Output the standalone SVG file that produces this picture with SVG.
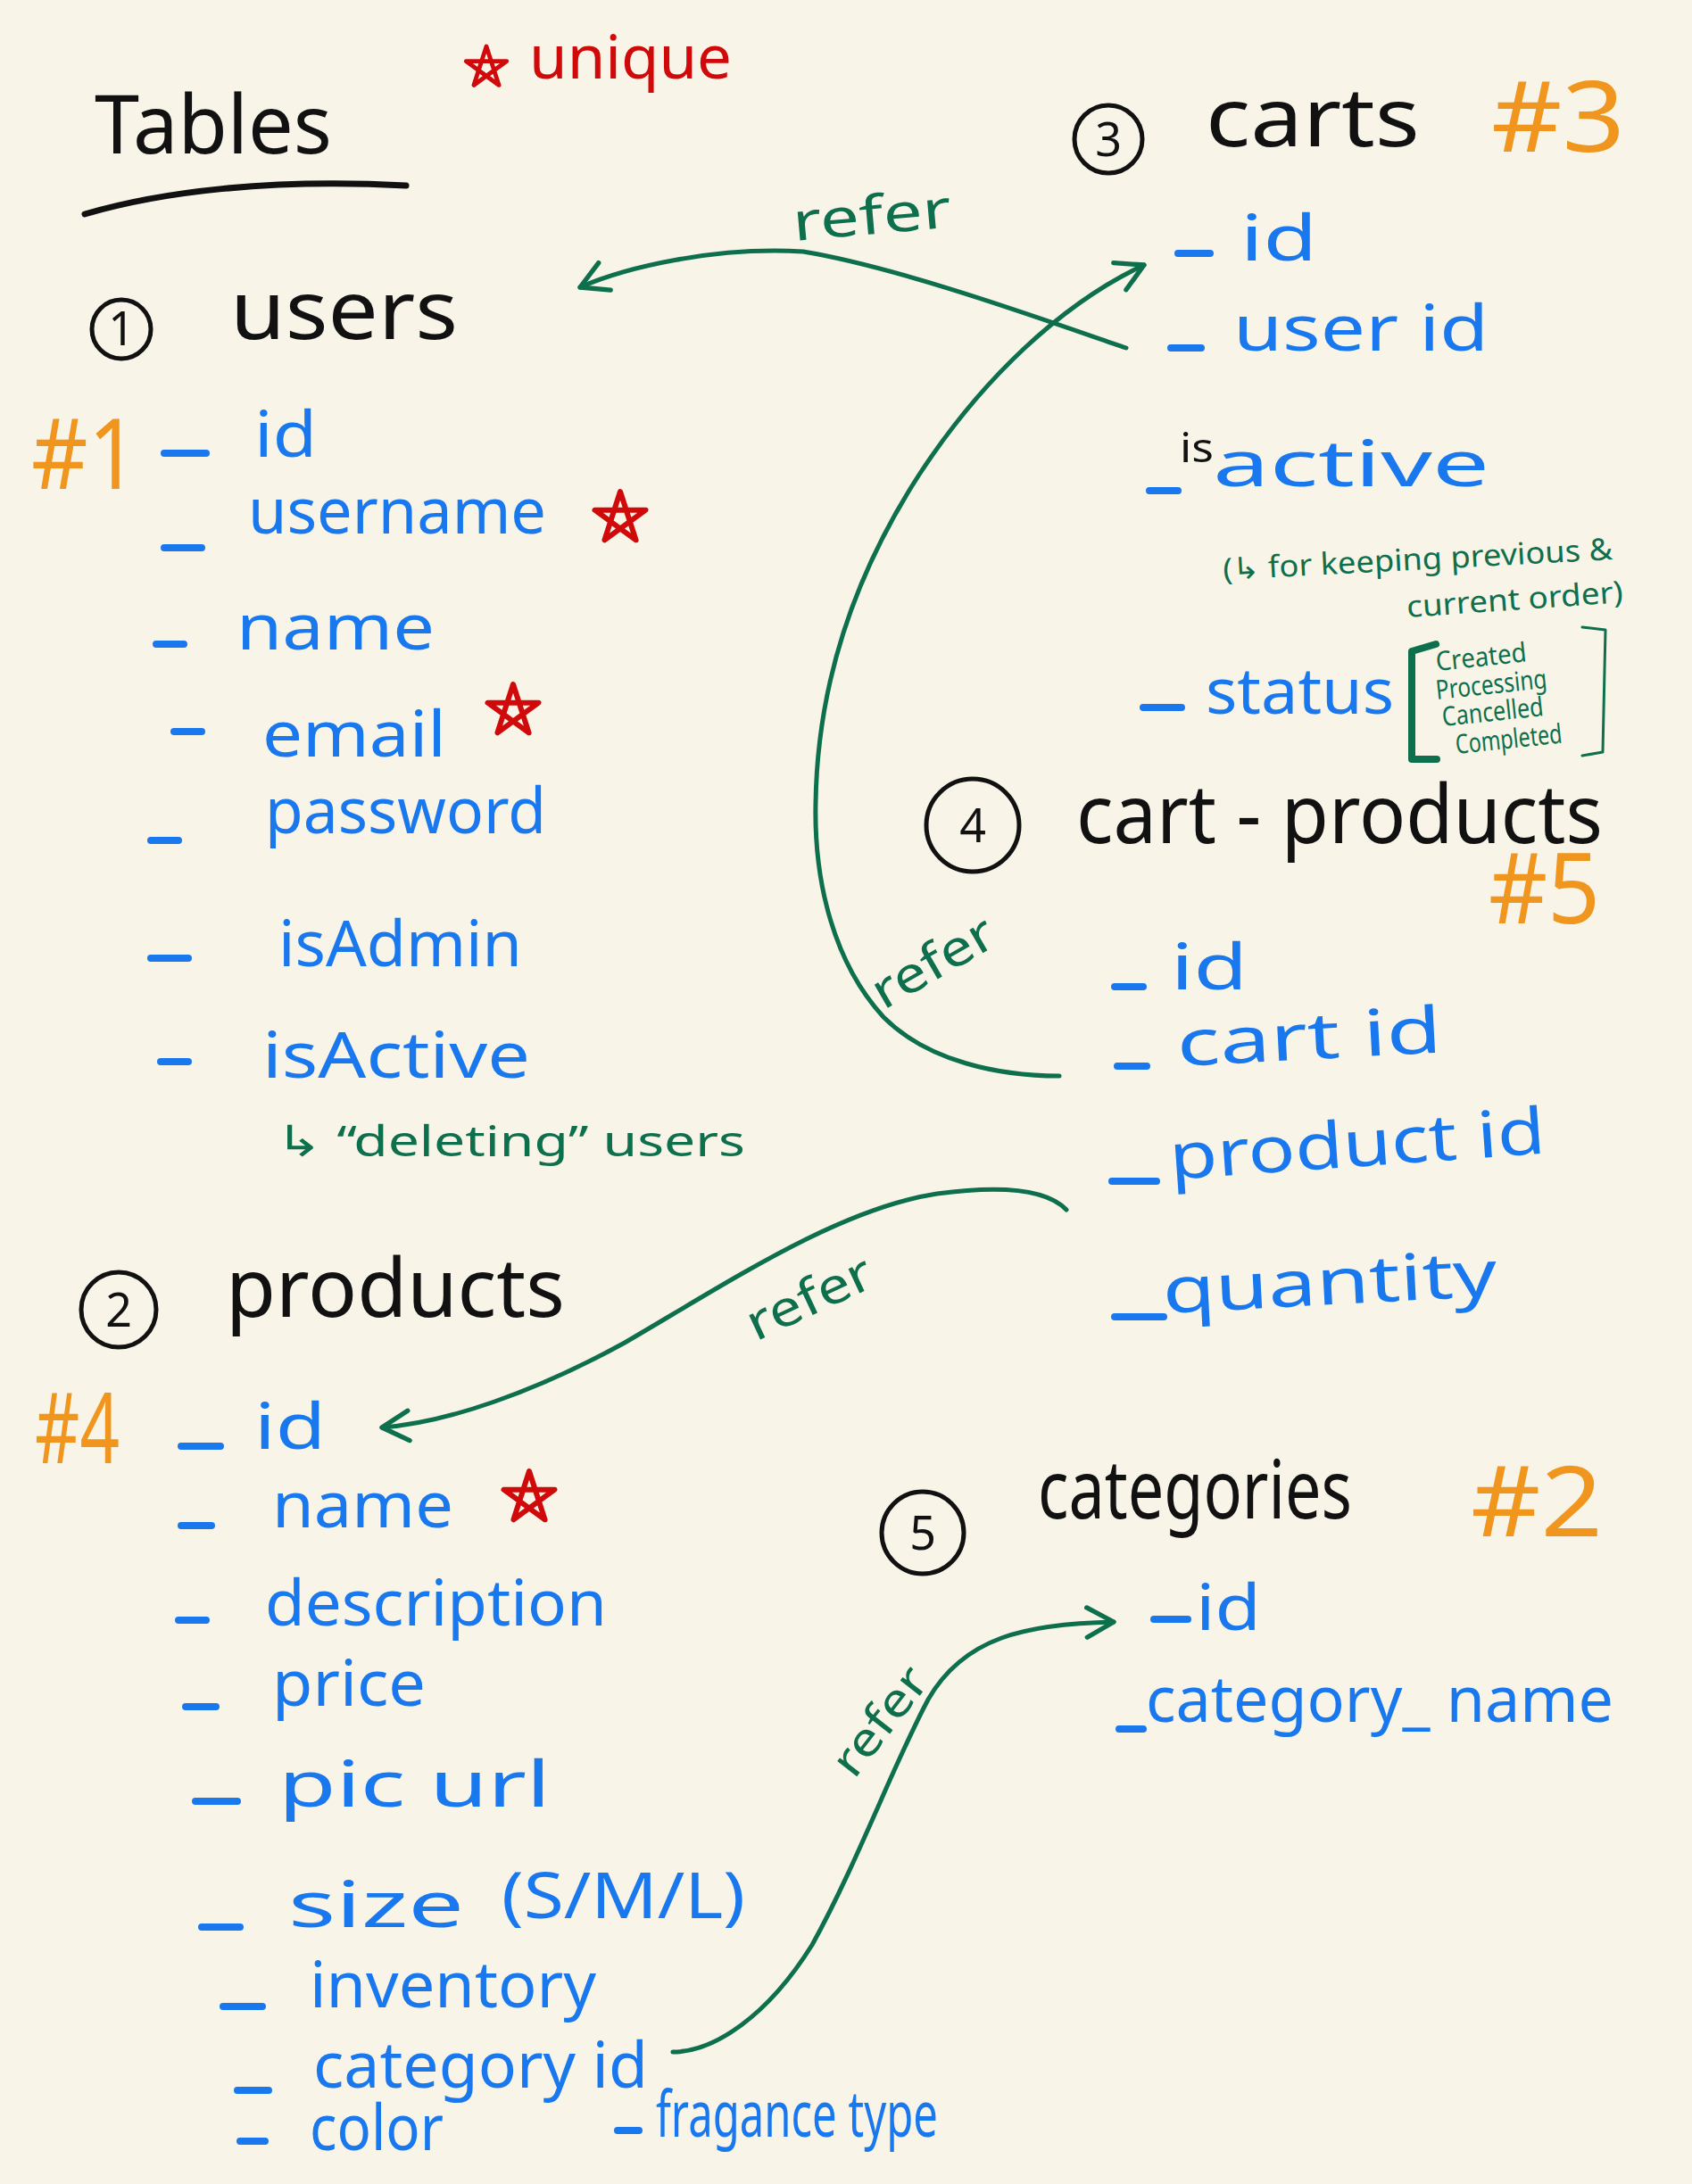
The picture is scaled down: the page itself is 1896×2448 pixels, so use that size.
<svg xmlns="http://www.w3.org/2000/svg" width="1896" height="2448" viewBox="0 0 1896 2448">
<defs>
<style>
text{font-family:"Noto Sans","DejaVu Sans",sans-serif;}
.blk{fill:#111;}
.hd{fill:#111;font-size:92px;}
.fld{fill:#1a78ee;font-size:72px;}
.dash{stroke:#1a78ee;stroke-width:8;stroke-linecap:round;fill:none;}
.org{fill:#f0961e;font-size:110px;}
.red{fill:#d00a0a;}
.grn{fill:#0e6f4d;}
.note{fill:#0e6f4d;font-size:34px;}
.num{fill:none;stroke:#111;stroke-width:5;}
.digit{fill:#111;font-size:52px;text-anchor:middle;}
.conn{fill:none;stroke:#0e6f4d;stroke-width:5;stroke-linecap:round;}
.star{fill:none;stroke:#d00a0a;stroke-width:6;stroke-linejoin:round;}
</style>
<marker id="arr" viewBox="0 0 12 12" refX="10" refY="6" markerWidth="8" markerHeight="8" markerUnits="strokeWidth" orient="auto">
<path d="M1,1 L10,6 L1,11" fill="none" stroke="#0e6f4d" stroke-width="1.6" stroke-linecap="round" stroke-linejoin="round"/>
</marker>
<path id="star" d="M0,-30 L17.6,24.3 L-28.5,-9.3 L28.5,-9.3 L-17.6,24.3 Z"/>
</defs>
<rect width="1896" height="2448" fill="#f8f5e8"/>

<g id="title">
<text class="hd" x="106" y="172" textLength="266" lengthAdjust="spacingAndGlyphs">Tables</text>
<path d="M95,240 C180,215 300,200 455,208" fill="none" stroke="#111" stroke-width="7" stroke-linecap="round"/>
</g>

<g id="legend">
<use href="#star" class="star" transform="translate(545,76) scale(0.8)"/>
<text class="red" x="593" y="88" font-size="68" textLength="227" lengthAdjust="spacingAndGlyphs">unique</text>
</g>

<g id="users">
<circle class="num" cx="136" cy="369" r="33"/>
<text class="digit" x="136" y="387">1</text>
<text class="hd" x="258" y="380" textLength="255" lengthAdjust="spacingAndGlyphs">users</text>
<text class="org" x="35" y="548" textLength="120" lengthAdjust="spacingAndGlyphs">#1</text>
<path class="dash" d="M184,508 H231 M184,614 H226 M175,722 H206 M195,820 H226 M169,942 H200 M169,1074 H211 M180,1190 H211"/>
<text class="fld" x="285" y="512" textLength="70" lengthAdjust="spacingAndGlyphs">id</text>
<text class="fld" x="278" y="598" textLength="334" lengthAdjust="spacingAndGlyphs">username</text>
<use href="#star" class="star" transform="translate(695,581)"/>
<text class="fld" x="265" y="728" textLength="222" lengthAdjust="spacingAndGlyphs">name</text>
<text class="fld" x="294" y="848" textLength="206" lengthAdjust="spacingAndGlyphs">email</text>
<use href="#star" class="star" transform="translate(575,797)"/>
<text class="fld" x="297" y="934" textLength="315" lengthAdjust="spacingAndGlyphs">password</text>
<text class="fld" x="312" y="1083" textLength="273" lengthAdjust="spacingAndGlyphs">isAdmin</text>
<text class="fld" x="294" y="1208" textLength="300" lengthAdjust="spacingAndGlyphs">isActive</text>
<text class="grn" x="309" y="1296" font-size="48" textLength="526" lengthAdjust="spacingAndGlyphs">↳ “deleting”  users</text>
</g>

<g id="products">
<circle class="num" cx="133" cy="1468" r="42"/>
<text class="digit" x="133" y="1487">2</text>
<text class="hd" x="253" y="1476" textLength="380" lengthAdjust="spacingAndGlyphs">products</text>
<text class="org" x="39" y="1640" textLength="95" lengthAdjust="spacingAndGlyphs">#4</text>
<path class="dash" d="M203,1621 H247 M203,1710 H237 M200,1816 H231 M208,1913 H242 M219,2019 H266 M226,2160 H269 M250,2249 H294 M266,2343 H301 M269,2400 H297"/>
<text class="fld" x="285" y="1624" textLength="80" lengthAdjust="spacingAndGlyphs">id</text>
<text class="fld" x="305" y="1712" textLength="203" lengthAdjust="spacingAndGlyphs">name</text>
<use href="#star" class="star" transform="translate(593,1679)"/>
<text class="fld" x="297" y="1822" textLength="383" lengthAdjust="spacingAndGlyphs">description</text>
<text class="fld" x="305" y="1912" textLength="172" lengthAdjust="spacingAndGlyphs">price</text>
<text class="fld" x="312" y="2025" textLength="305" lengthAdjust="spacingAndGlyphs">pic url</text>
<text class="fld" x="323" y="2160" textLength="197" lengthAdjust="spacingAndGlyphs">size</text>
<text class="fld" x="562" y="2150" font-size="58" textLength="273" lengthAdjust="spacingAndGlyphs">(S/M/L)</text>
<text class="fld" x="347" y="2250" textLength="321" lengthAdjust="spacingAndGlyphs">inventory</text>
<text class="fld" x="351" y="2340" font-size="64" textLength="375" lengthAdjust="spacingAndGlyphs">category  id</text>
<text class="fld" x="347" y="2410" font-size="58" textLength="150" lengthAdjust="spacingAndGlyphs">color</text>
<path class="dash" d="M692,2388 H716"/>
<text class="fld" x="735" y="2395" font-size="52" textLength="316" lengthAdjust="spacingAndGlyphs">fragance type</text>
</g>

<g id="carts">
<circle class="num" cx="1242" cy="156" r="38"/>
<text class="digit" x="1242" y="175">3</text>
<text class="hd" x="1351" y="164" textLength="240" lengthAdjust="spacingAndGlyphs">carts</text>
<text class="org" x="1671" y="170" font-size="120" textLength="150" lengthAdjust="spacingAndGlyphs">#3</text>
<path class="dash" d="M1320,284 H1356 M1312,390 H1346 M1288,550 H1320 M1281,793 H1324"/>
<text class="fld" x="1390" y="292" textLength="86" lengthAdjust="spacingAndGlyphs">id</text>
<text class="fld" x="1382" y="393" textLength="286" lengthAdjust="spacingAndGlyphs">user id</text>
<text class="blk" x="1322" y="518" font-size="46" textLength="38" lengthAdjust="spacingAndGlyphs">is</text>
<text class="fld" x="1359" y="545" font-size="80" textLength="310" lengthAdjust="spacingAndGlyphs">active</text>
<text class="note" x="1371" y="650" textLength="437" lengthAdjust="spacingAndGlyphs" transform="rotate(-3 1371 650)">(↳ for keeping previous &amp;</text>
<text class="note" x="1577" y="692" textLength="243" lengthAdjust="spacingAndGlyphs" transform="rotate(-4 1577 692)">current order)</text>
<text class="fld" x="1351" y="800" font-size="80" textLength="211" lengthAdjust="spacingAndGlyphs">status</text>
<path d="M1609,722 L1582,730 L1582,851 L1610,851" fill="none" stroke="#0e6f4d" stroke-width="8" stroke-linecap="round" stroke-linejoin="round"/>
<path d="M1773,703 L1799,706 L1796,843 L1773,847" fill="none" stroke="#0e6f4d" stroke-width="3" stroke-linecap="round" stroke-linejoin="round"/>
<g class="note">
<text x="1610" y="752" font-size="30" textLength="102" lengthAdjust="spacingAndGlyphs" transform="rotate(-6 1610 752)">Created</text>
<text x="1610" y="784" font-size="30" textLength="125" lengthAdjust="spacingAndGlyphs" transform="rotate(-6 1610 784)">Processing</text>
<text x="1617" y="814" font-size="30" textLength="114" lengthAdjust="spacingAndGlyphs" transform="rotate(-6 1617 814)">Cancelled</text>
<text x="1632" y="845" font-size="30" textLength="120" lengthAdjust="spacingAndGlyphs" transform="rotate(-6 1632 845)">Completed</text>
</g>
</g>

<g id="cart-products">
<circle class="num" cx="1090" cy="925" r="52"/>
<text class="digit" x="1090" y="944" font-size="58">4</text>
<text class="hd" x="1206" y="945" textLength="590" lengthAdjust="spacingAndGlyphs">cart - products</text>
<text class="org" x="1668" y="1035" textLength="125" lengthAdjust="spacingAndGlyphs">#5</text>
<path class="dash" d="M1249,1106 H1281 M1252,1195 H1285 M1246,1324 H1296 M1249,1476 H1304"/>
<text class="fld" x="1312" y="1109" textLength="86" lengthAdjust="spacingAndGlyphs">id</text>
<text class="fld" x="1320" y="1195" textLength="297" lengthAdjust="spacingAndGlyphs" transform="rotate(-3 1320 1195)">cart  id</text>
<text class="fld" x="1312" y="1322" textLength="422" lengthAdjust="spacingAndGlyphs" transform="rotate(-4 1312 1322)">product  id</text>
<text class="fld" x="1304" y="1472" font-size="84" textLength="375" lengthAdjust="spacingAndGlyphs" transform="rotate(-3 1304 1472)">quantity</text>
</g>

<g id="categories">
<circle class="num" cx="1034" cy="1718" r="46"/>
<text class="digit" x="1034" y="1737">5</text>
<text class="hd" x="1163" y="1702" font-size="84" textLength="352" lengthAdjust="spacingAndGlyphs">categories</text>
<text class="org" x="1648" y="1722" textLength="148" lengthAdjust="spacingAndGlyphs">#2</text>
<path class="dash" d="M1293,1815 H1331 M1254,1938 H1281"/>
<text class="fld" x="1340" y="1827" textLength="73" lengthAdjust="spacingAndGlyphs">id</text>
<text class="fld" x="1284" y="1930" font-size="66" textLength="524" lengthAdjust="spacingAndGlyphs">category_ name</text>
</g>

<g id="connectors">
<path class="conn" marker-end="url(#arr)" d="M1262,390 C1180,362 1010,300 900,282 C800,276 700,300 650,322"/>
<text class="grn" x="890" y="270" font-size="60" textLength="178" lengthAdjust="spacingAndGlyphs" transform="rotate(-5 890 270)">refer</text>
<path class="conn" marker-end="url(#arr)" d="M1187,1206 C1120,1206 1040,1190 990,1140 C935,1080 912,990 914,900 C916,760 960,640 1030,532 C1100,425 1190,340 1282,297"/>
<text class="grn" font-size="56" text-anchor="middle" textLength="150" lengthAdjust="spacingAndGlyphs" transform="translate(1055,1095) rotate(-30)">refer</text>
<path class="conn" marker-end="url(#arr)" d="M1195,1356 C1170,1330 1110,1330 1050,1338 C940,1355 820,1435 700,1505 C600,1560 500,1595 428,1600"/>
<text class="grn" font-size="56" text-anchor="middle" textLength="150" lengthAdjust="spacingAndGlyphs" transform="translate(915,1472) rotate(-25)">refer</text>
<path class="conn" marker-end="url(#arr)" d="M754,2300 C800,2300 860,2260 910,2180 C960,2090 1000,1980 1040,1905 C1080,1835 1150,1820 1248,1818"/>
<text class="grn" font-size="52" text-anchor="middle" textLength="140" lengthAdjust="spacingAndGlyphs" transform="translate(1000,1940) rotate(-52)">refer</text>
</g>
</svg>
